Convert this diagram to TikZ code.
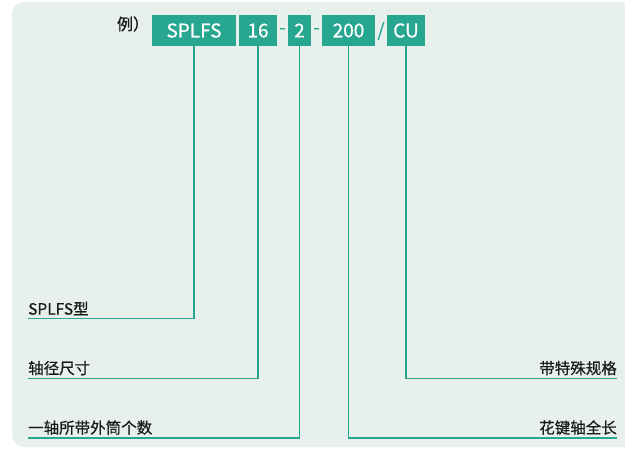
\documentclass[tikz,border=0pt]{standalone}
\usepackage{fontspec}
\setmainfont{Noto Sans CJK SC}
\newfontfamily\medfont[FakeBold=0.6]{Noto Sans CJK SC}
\newfontfamily\heavyfont[FakeBold=1.2]{Noto Sans CJK SC}
\definecolor{bgc}{HTML}{E7F0ED}
\definecolor{teal}{HTML}{27A690}
\definecolor{ink}{HTML}{1A1A1A}
\tikzset{
  codebox/.style={fill=teal,text=white,inner sep=0pt,font=\medfont\fontsize{19}{21}\selectfont},
  sep/.style={text=teal,inner sep=0pt,font=\medfont\fontsize{18}{20}\selectfont},
  lbl/.style={text=ink,inner xsep=0pt,inner ysep=3pt,font=\medfont\fontsize{15.5}{17}\selectfont},
  conn/.style={draw=teal,line width=1.5pt}
}
\begin{document}
\begin{tikzpicture}[x=1pt,y=-1pt]
\useasboundingbox (0,0) rectangle (625,451);
\fill[bgc,rounded corners=12pt] (660,2) -- (12,2) -- (12,447) -- (660,447) -- cycle;
% example label
\node[text=ink,inner sep=0pt,font=\heavyfont\fontsize{16}{18}\selectfont] (ex) at (133,24) {例）};
% code boxes
\node[codebox,minimum width=84pt,minimum height=31pt] (b1) at (194,30.5) {SPLFS};
\node[codebox,minimum width=38pt,minimum height=31pt] (b2) at (258,30.5) {16};
\node[sep] (s1) at (282.5,31) {-};
\node[codebox,minimum width=23pt,minimum height=31pt] (b3) at (299.5,30.5) {2};
\node[sep] (s2) at (316.5,31) {-};
\node[codebox,minimum width=53pt,minimum height=31pt] (b4) at (348.5,30.5) {200};
\node[sep] (s3) at (381,31) {/};
\node[codebox,minimum width=38pt,minimum height=31pt] (b5) at (406,30.5) {CU};
% line end coordinates
\coordinate (e1) at (28,318.5);
\coordinate (e2) at (28,378.5);
\coordinate (e3) at (28,438);
\coordinate (e4) at (617,378.5);
\coordinate (e5) at (617,438);
% labels
\node[lbl,anchor=south west] (l1) at (e1) {SPLFS型};
\node[lbl,anchor=south west] (l2) at (e2) {轴径尺寸};
\node[lbl,anchor=south west] (l3) at (e3) {一轴所带外筒个数};
\node[lbl,anchor=south east] (l4) at (e4) {带特殊规格};
\node[lbl,anchor=south east] (l5) at (e5) {花键轴全长};
% connectors
\draw[conn] (b1.south) |- (e1);
\draw[conn] (b2.south) |- (e2);
\draw[conn] (b3.south) |- (e3);
\draw[conn] (b5.south) |- (e4);
\draw[conn] (b4.south) |- (e5);
\end{tikzpicture}
\end{document}
